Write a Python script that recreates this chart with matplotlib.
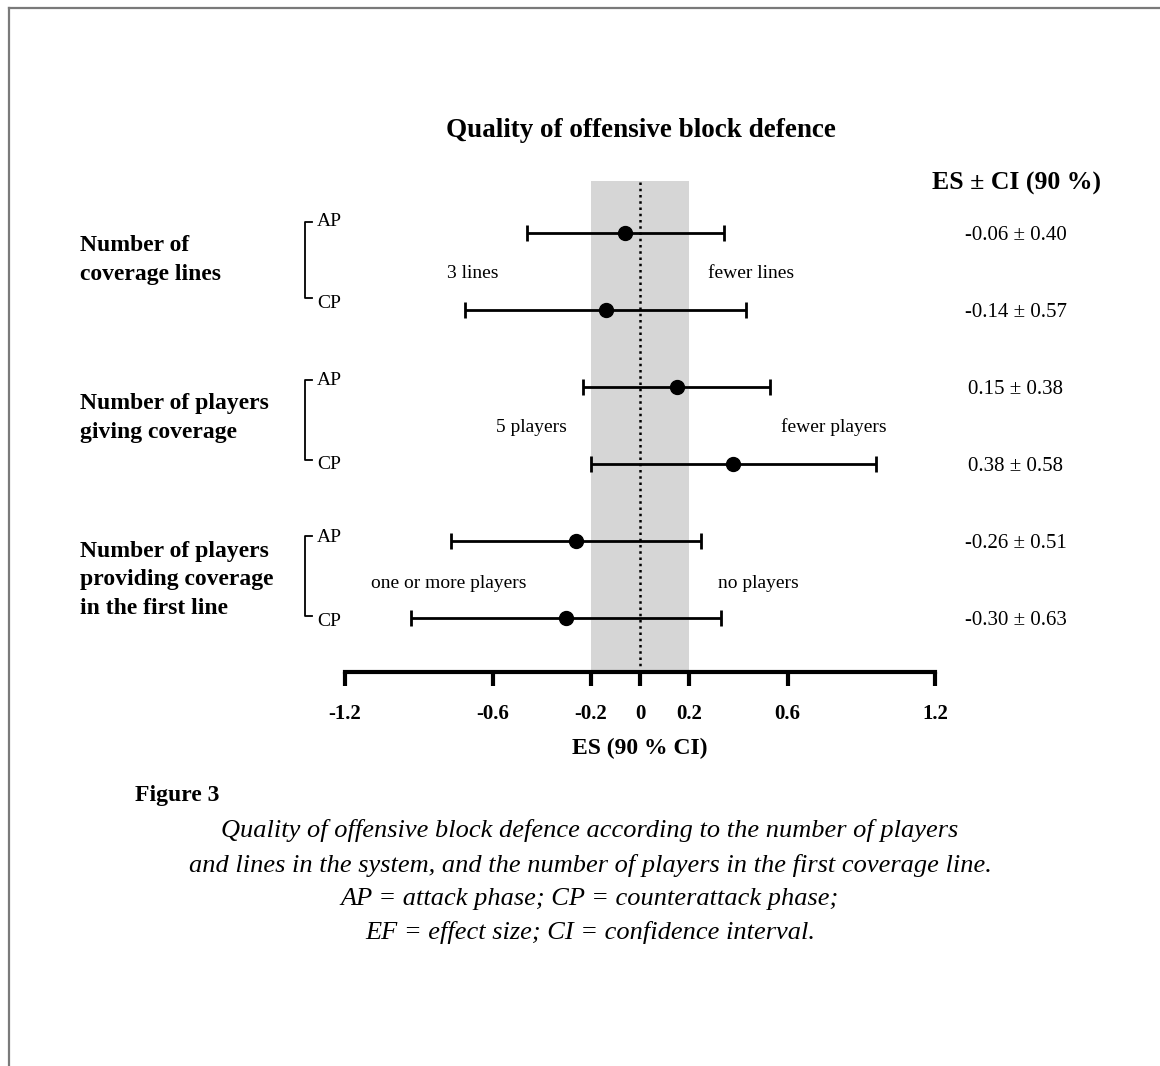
import matplotlib.pyplot as plt
import matplotlib.lines as mlines

plt.rcParams['axes.unicode_minus'] = False
SERIF = 'Liberation Serif'

# Data
phases = ['AP', 'CP', 'AP', 'CP', 'AP', 'CP']
es = [-0.06, -0.14, 0.15, 0.38, -0.26, -0.30]
ci = [0.40, 0.57, 0.38, 0.58, 0.51, 0.63]
rows = [0, 1, 2, 3, 4, 5]
groups = ['Number of\ncoverage lines',
          'Number of players\ngiving coverage',
          'Number of players\nproviding coverage\nin the first line']
left_notes = ['3 lines', '5 players', 'one or more players']
right_notes = ['fewer lines', 'fewer players', 'no players']
ticks = [-1.2, -0.6, -0.2, 0, 0.2, 0.6, 1.2]
tick_labels = ['-1.2', '-0.6', '-0.2', '0', '0.2', '0.6', '1.2']

W, H = 1160, 1066
fig = plt.figure(figsize=(W / 100, H / 100), dpi=100)


def fx(x):
    return x / W


def fy(y):
    return 1 - y / H


# page border (left and top)
fig.add_artist(mlines.Line2D([fx(8.5), fx(8.5)], [0, fy(7.5)], color='#7a7a7a', lw=1.6))
fig.add_artist(mlines.Line2D([fx(8.5), 1], [fy(7.5), fy(7.5)], color='#7a7a7a', lw=1.6))

ax = fig.add_axes([fx(345), fy(672), fx(935) - fx(345), fy(181) - fy(672)])
ax.set_xlim(-1.2, 1.2)
ax.set_ylim(5.70, -0.675)

ax.axvspan(-0.2, 0.2, color='#d6d6d6', lw=0, zorder=0)
ax.axvline(0, color='black', ls=(0, (1, 1.5)), lw=1.8, zorder=1)
ax.errorbar(es, rows, xerr=ci, fmt='o', color='black', ms=10,
            elinewidth=2, capsize=6, capthick=2, zorder=3)

for s in ['left', 'top', 'right']:
    ax.spines[s].set_visible(False)
ax.spines['bottom'].set_linewidth(3)
ax.set_yticks([])
ax.set_xticks(ticks)
ax.set_xticklabels(tick_labels, fontfamily=SERIF, fontweight='bold', fontsize=15)
ax.tick_params(axis='x', direction='out', length=10, width=3, pad=13)
ax.set_xlabel('ES (90 % CI)', fontfamily=SERIF, fontweight='bold', fontsize=17, labelpad=10)

# title and right column header
fig.text(fx(641), fy(137), 'Quality of offensive block defence', ha='center', va='baseline',
         fontfamily=SERIF, fontweight='bold', fontsize=19.5)
fig.text(fx(1016), fy(190), 'ES \u00b1 CI (90 %)', ha='center', va='baseline',
         fontfamily=SERIF, fontweight='bold', fontsize=18.5)

# ES +/- CI values
for r, e, c in zip(rows, es, ci):
    ax.annotate(f'{e:.2f} \u00b1 {c:.2f}', xy=(1.0, r), xycoords=('axes fraction', 'data'),
                xytext=(58, 0), textcoords='offset points', ha='center', va='center_baseline',
                fontfamily=SERIF, fontsize=15, annotation_clip=False)

# group labels
group_y = [260, 418, 580]
for g, y in zip(groups, group_y):
    fig.text(fx(80), fy(y), g, ha='left', va='center', fontfamily=SERIF,
             fontweight='bold', fontsize=17, linespacing=1.5)

# brackets with AP / CP
bracket_y = [(222, 298), (380, 460), (536, 616)]
text_y = [(220, 302), (379, 463), (536, 619)]
for i in range(3):
    xb = 305
    ya, yc = bracket_y[i]
    fig.add_artist(mlines.Line2D([fx(xb + 7), fx(xb), fx(xb), fx(xb + 7)],
                                 [fy(ya), fy(ya), fy(yc), fy(yc)], color='black', lw=1.3))
    ta, tc = text_y[i]
    fig.text(fx(xb + 12), fy(ta), phases[2 * i], ha='left', va='center_baseline',
             fontfamily=SERIF, fontsize=14)
    fig.text(fx(xb + 12), fy(tc), phases[2 * i + 1], ha='left', va='center_baseline',
             fontfamily=SERIF, fontsize=14)

# direction notes
note_y = [271, 425, 582]
left_x = [-0.68, -0.44, -0.78]
right_x = [0.45, 0.79, 0.48]
for i in range(3):
    fig.text(fx(640 + left_x[i] * 245.8), fy(note_y[i]), left_notes[i], ha='center',
             va='center_baseline', fontfamily=SERIF, fontsize=14)
    fig.text(fx(640 + right_x[i] * 245.8), fy(note_y[i]), right_notes[i], ha='center',
             va='center_baseline', fontfamily=SERIF, fontsize=14)

# caption
fig.text(fx(135), fy(793), 'Figure 3', ha='left', va='center_baseline', fontfamily=SERIF,
         fontweight='bold', fontsize=17)
caption = ['Quality of offensive block defence according to the number of players',
           'and lines in the system, and the number of players in the first coverage line.',
           'AP = attack phase; CP = counterattack phase;',
           'EF = effect size; CI = confidence interval.']
for line, y in zip(caption, [828, 863, 896, 930]):
    fig.text(fx(590), fy(y), line, ha='center', va='center_baseline', fontfamily=SERIF,
             fontstyle='italic', fontsize=19)

fig.savefig('out.png', dpi=100)
